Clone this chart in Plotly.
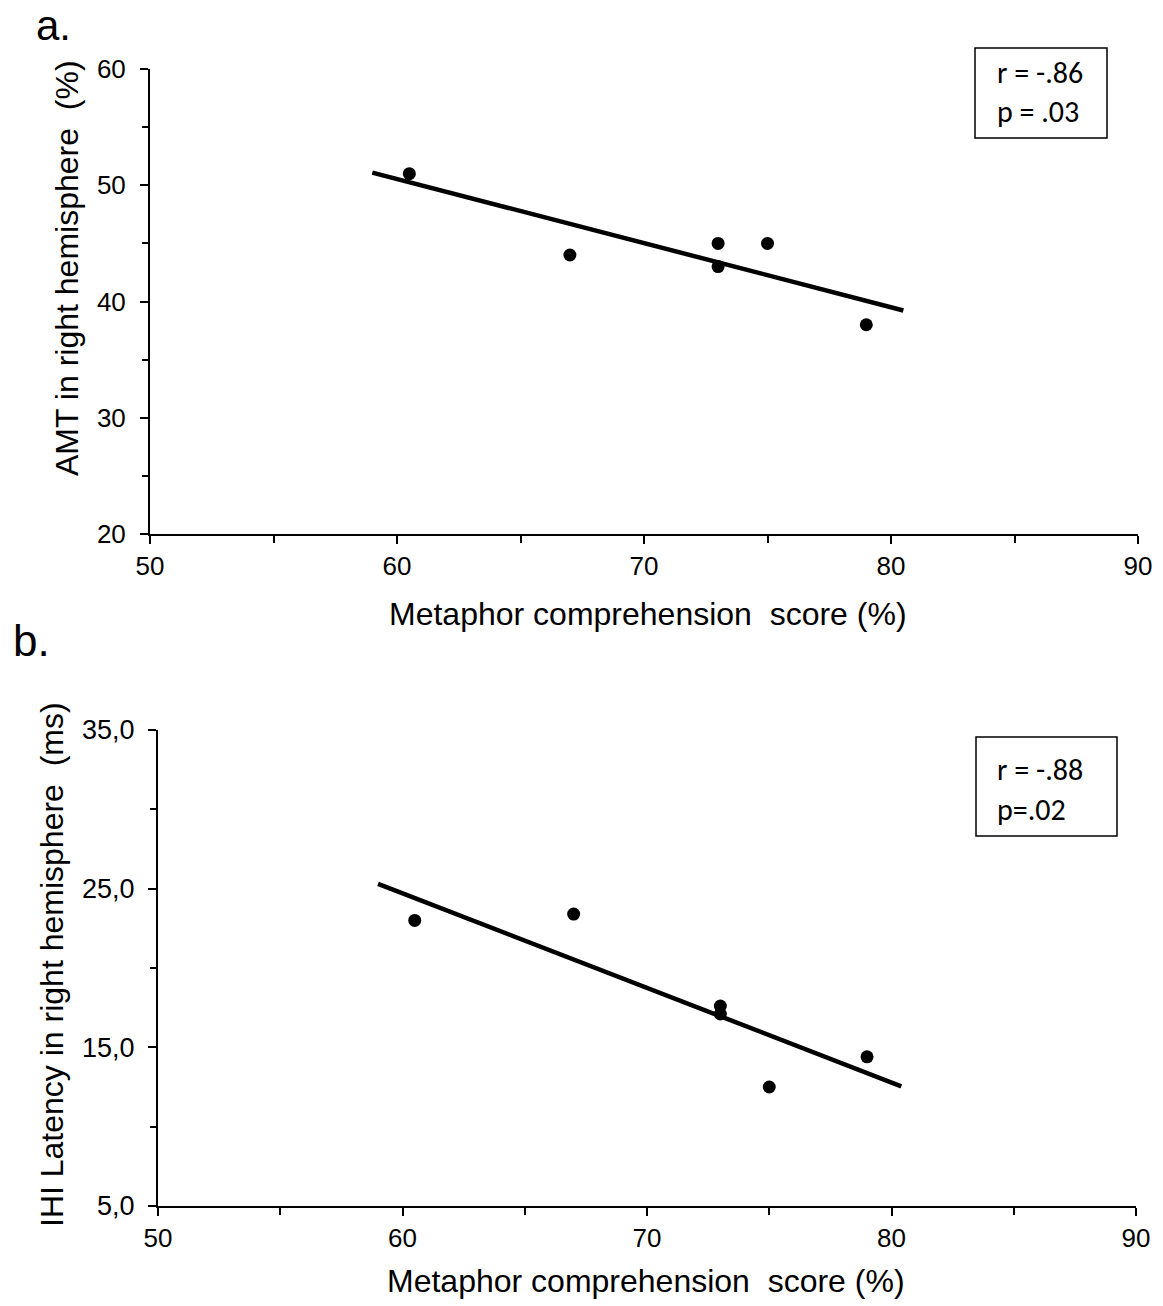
import numpy as np
import plotly.graph_objects as go

# ---- data ----
score_a = [60.5, 67, 73, 73, 75, 79]
amt_a = [51, 44, 45, 43, 45, 38]
score_b = [60.5, 67, 73, 73, 75, 79]
ihi_b = [23.0, 23.4, 17.6, 17.1, 12.5, 14.4]
fit_range_a = [59, 80.5]
fit_range_b = [59, 80.4]
x_ticks = [50, 60, 70, 80, 90]
y_ticks_a = [20, 30, 40, 50, 60]
y_ticks_b = [5, 15, 25, 35]
y_ticklabels_b = ["5,0", "15,0", "25,0", "35,0"]
stats_a = ["r = -.86", "p = .03"]
stats_b = ["r = -.88", "p=.02"]

W, H = 1163, 1306
FONT = "Liberation Sans, Arial, sans-serif"
BOXFONT = "Carlito, Lato, sans-serif"


def px_x(p):
    return p / W


def px_y(p):
    return 1 - p / H


def fit_line(x, y, xr):
    m, c = np.polyfit(x, y, 1)
    xs = np.array(xr, dtype=float)
    return xs, m * xs + c


fig = go.Figure()

fxa, fya = fit_line(score_a, amt_a, fit_range_a)
fig.add_trace(go.Scatter(x=fxa, y=fya, mode="lines", line=dict(color="black", width=4.5),
                         xaxis="x", yaxis="y", showlegend=False))
fig.add_trace(go.Scatter(x=score_a, y=amt_a, mode="markers",
                         marker=dict(color="black", size=13), xaxis="x", yaxis="y", showlegend=False))

fxb, fyb = fit_line(score_b, ihi_b, fit_range_b)
fig.add_trace(go.Scatter(x=fxb, y=fyb, mode="lines", line=dict(color="black", width=4.5),
                         xaxis="x2", yaxis="y2", showlegend=False))
fig.add_trace(go.Scatter(x=score_b, y=ihi_b, mode="markers",
                         marker=dict(color="black", size=13), xaxis="x2", yaxis="y2", showlegend=False))

axis_common = dict(showline=True, linecolor="black", linewidth=2, showgrid=False, zeroline=False,
                   ticks="outside", tickcolor="black", tickwidth=2, ticklen=8, automargin=False)
minor_x = dict(dtick=5, tick0=0, ticks="outside", ticklen=7, tickwidth=1.5, tickcolor="black")
minor_y = dict(dtick=5, tick0=0, ticks="outside", ticklen=6, tickwidth=1.5, tickcolor="black")

fig.update_layout(
    width=W, height=H,
    margin=dict(l=0, r=0, t=0, b=0),
    paper_bgcolor="white", plot_bgcolor="white",
    xaxis=dict(domain=[px_x(150), px_x(1138)], range=[50, 90], anchor="y",
               tickvals=x_ticks, minor=minor_x,
               tickfont=dict(family=FONT, size=26, color="black"), **axis_common),
    yaxis=dict(domain=[px_y(534), px_y(69)], range=[20, 60], anchor="x",
               tickvals=y_ticks_a, minor=minor_y, ticklabelstandoff=9,
               tickfont=dict(family=FONT, size=26, color="black"), **axis_common),
    xaxis2=dict(domain=[px_x(158), px_x(1136)], range=[50, 90], anchor="y2",
                tickvals=x_ticks, minor=minor_x,
                tickfont=dict(family=FONT, size=26, color="black"), **axis_common),
    yaxis2=dict(domain=[px_y(1206), px_y(730)], range=[5, 35], anchor="x2",
                tickvals=y_ticks_b, ticktext=y_ticklabels_b, minor=minor_y, ticklabelstandoff=8,
                tickfont=dict(family=FONT, size=27, color="black"), **axis_common),
)

anns = []
def ptext(text, x, y, size, xanchor="center", yanchor="middle", angle=0, family=FONT):
    anns.append(dict(text=text, x=px_x(x), y=px_y(y), xref="paper", yref="paper",
                     xanchor=xanchor, yanchor=yanchor, showarrow=False, textangle=angle,
                     font=dict(family=family, size=size, color="black")))

NB = "\u00a0"
ptext("a.", 34, 0, 42, xanchor="left", yanchor="top")
ptext("b.", 11, 667, 44, xanchor="left", yanchor="bottom")
ptext("Metaphor comprehension" + NB + " score (%)", 648, 614, 32)
ptext("Metaphor comprehension" + NB + " score (%)", 646, 1281, 32)
ptext("AMT in right hemisphere" + NB + " (%)", 67, 268, 32, angle=-90)
ptext("IHI Latency in right hemisphere" + NB + " (ms)", 52, 965, 32, angle=-90)

# stats boxes
ptext(stats_a[0], 995, 72, 30, xanchor="left", family=BOXFONT)
ptext(stats_a[1], 995, 112, 30, xanchor="left", family=BOXFONT)
ptext(stats_b[0], 995, 770, 30, xanchor="left", family=BOXFONT)
ptext(stats_b[1], 995, 809, 30, xanchor="left", family=BOXFONT)
fig.update_layout(annotations=anns)

shapes = [
    dict(type="rect", xref="paper", yref="paper", x0=px_x(975), x1=px_x(1107), y0=px_y(138), y1=px_y(48),
         line=dict(color="black", width=1.5)),
    dict(type="rect", xref="paper", yref="paper", x0=px_x(976), x1=px_x(1117), y0=px_y(836), y1=px_y(737),
         line=dict(color="black", width=1.5)),
]
fig.update_layout(shapes=shapes)

fig.write_html("out.html")
